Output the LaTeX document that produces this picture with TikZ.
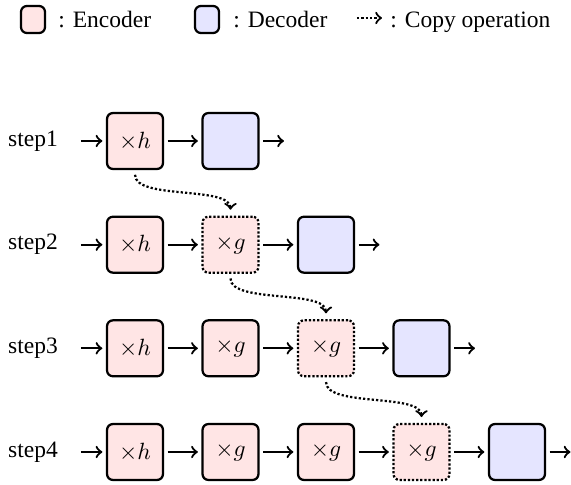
\documentclass[tikz,border=0pt]{standalone}
\usepackage{fontspec}
\setmainfont{Liberation Serif}
\begin{document}
\begin{tikzpicture}[x=0.4255pt, y=-0.4255pt,
  box/.style={draw, line width=0.95pt, rounded corners=2.5pt, minimum size=23.8pt, inner sep=0pt},
  enc/.style={box, fill=red!10},
  dec/.style={box, fill=blue!10},
  encopy/.style={enc, dash pattern=on 0.95pt off 0.8pt},
  keybox/.style={draw, line width=0.95pt, rounded corners=2.5pt, minimum width=10.2pt, minimum height=11.5pt, inner sep=0pt},
  flow/.style={line width=0.95pt, ->, shorten <=1.5pt, shorten >=1.5pt},
  copyarrow/.style={line width=0.95pt, ->, dash pattern=on 0.95pt off 0.9pt},
  lbl/.style={anchor=base west, inner sep=0pt},
  steplbl/.style={anchor=base, inner sep=0pt}]
\useasboundingbox (0,0) rectangle (571,485);

% legend
\node[keybox, fill=red!10] (kenc) at (33,19.5) {};
\node[lbl] (tenc) at (58,27.7) {: Encoder};
\node[keybox, fill=blue!10] (kdec) at (207,19.5) {};
\node[lbl] (tdec) at (233,27.7) {: Decoder};
\coordinate (kca) at (357,18);
\coordinate (kcb) at (382,18);
\draw[copyarrow] (kca) -- (kcb);
\node[lbl] (tcopy) at (390,27.7) {: Copy operation};

% step 1
\node[steplbl] (s1) at (33,146) {step1};
\coordinate (i1) at (81,141);
\node[enc] (n11) at (135,141) {$\times h$};
\node[dec] (n12) at (230.5,141) {};
\coordinate (o1) at (284,141);
\draw[flow, shorten <=0pt] (i1) -- (n11);
\draw[flow] (n11) -- (n12);
\draw[flow, shorten >=0pt] (n12) -- (o1);

% step 2
\node[steplbl] (s2) at (33,249.7) {step2};
\coordinate (i2) at (81,244.7);
\node[enc] (n21) at (135,244.7) {$\times h$};
\node[encopy] (n22) at (230.5,244.7) {$\times g$};
\node[dec] (n23) at (326,244.7) {};
\coordinate (o2) at (379.5,244.7);
\draw[flow, shorten <=0pt] (i2) -- (n21);
\draw[flow] (n21) -- (n22);
\draw[flow] (n22) -- (n23);
\draw[flow, shorten >=0pt] (n23) -- (o2);

% step 3
\node[steplbl] (s3) at (33,353.3) {step3};
\coordinate (i3) at (81,348.3);
\node[enc] (n31) at (135,348.3) {$\times h$};
\node[enc] (n32) at (230.5,348.3) {$\times g$};
\node[encopy] (n33) at (326,348.3) {$\times g$};
\node[dec] (n34) at (421.5,348.3) {};
\coordinate (o3) at (475,348.3);
\draw[flow, shorten <=0pt] (i3) -- (n31);
\draw[flow] (n31) -- (n32);
\draw[flow] (n32) -- (n33);
\draw[flow] (n33) -- (n34);
\draw[flow, shorten >=0pt] (n34) -- (o3);

% step 4
\node[steplbl] (s4) at (33,457) {step4};
\coordinate (i4) at (81,452);
\node[enc] (n41) at (135,452) {$\times h$};
\node[enc] (n42) at (230.5,452) {$\times g$};
\node[enc] (n43) at (326,452) {$\times g$};
\node[encopy] (n44) at (421.5,452) {$\times g$};
\node[dec] (n45) at (517,452) {};
\coordinate (o4) at (570.5,452);
\draw[flow, shorten <=0pt] (i4) -- (n41);
\draw[flow] (n41) -- (n42);
\draw[flow] (n42) -- (n43);
\draw[flow] (n43) -- (n44);
\draw[flow] (n44) -- (n45);
\draw[flow, shorten >=0pt] (n45) -- (o4);

% copy operations between steps
\draw[copyarrow, shorten <=2pt, shorten >=2.5pt] (n11.south) .. controls +(0,30) and +(0,-30) .. (n22.north);
\draw[copyarrow, shorten <=2pt, shorten >=2.5pt] (n22.south) .. controls +(0,30) and +(0,-30) .. (n33.north);
\draw[copyarrow, shorten <=2pt, shorten >=2.5pt] (n33.south) .. controls +(0,30) and +(0,-30) .. (n44.north);
\end{tikzpicture}
\end{document}
